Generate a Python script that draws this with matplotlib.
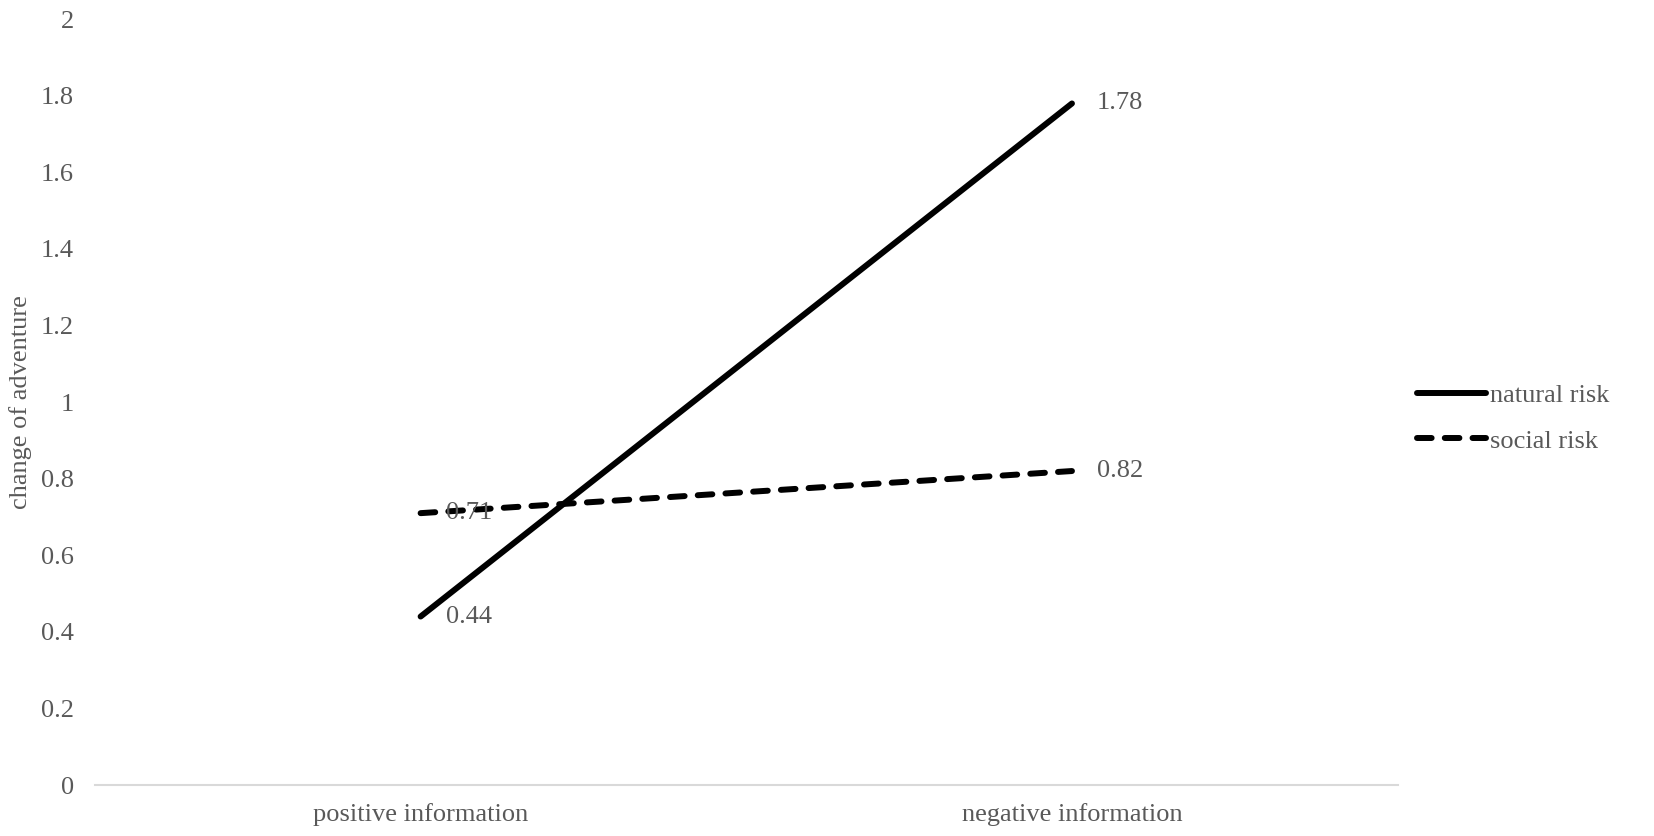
import matplotlib
matplotlib.use('Agg')
import matplotlib.pyplot as plt
import numpy as np

# Data
categories = ['positive information', 'negative information']
natural_risk = [0.44, 1.78]
social_risk = [0.71, 0.82]
series_names = ['natural risk', 'social risk']

plt.rcParams['font.family'] = ['Liberation Serif', 'DejaVu Serif']
grey = '#595959'
fs = 19

fig = plt.figure(figsize=(16.54, 8.36), dpi=100)
ax = fig.add_axes([0.0574, 0.061, 0.7876, 0.916])

x = np.arange(len(categories))
l1, = ax.plot(x, natural_risk, color='black', lw=4.3, solid_capstyle='round',
              label=series_names[0])
l2, = ax.plot(x, social_risk, color='black', lw=4.3, dash_capstyle='round',
              dashes=(2.45, 2.2), label=series_names[1])

for xs, ys in [(x, natural_risk), (x, social_risk)]:
    for xi, yi in zip(xs, ys):
        ax.annotate('{:.2f}'.format(yi), xy=(xi, yi), xytext=(18, 0),
                    textcoords='offset points', ha='left', va='center',
                    fontsize=fs, color=grey)

ax.set_xlim(-0.5, 1.5)
ax.set_ylim(0, 2)
ax.set_xticks(x)
ax.set_xticklabels(categories)
ax.set_yticks(np.arange(0, 2.01, 0.2))
ax.set_yticklabels(['0', '0.2', '0.4', '0.6', '0.8', '1', '1.2', '1.4', '1.6', '1.8', '2'])
ax.tick_params(length=0, labelsize=fs, labelcolor=grey)
ax.tick_params(axis='x', pad=13)
ax.tick_params(axis='y', pad=15)

for s in ['top', 'right', 'left']:
    ax.spines[s].set_visible(False)
ax.spines['bottom'].set_color('#d9d9d9')
ax.spines['bottom'].set_linewidth(1.5)

ax.set_ylabel('change of adventure', fontsize=fs, color=grey)
ax.yaxis.set_label_coords(-0.048, 0.5)

leg = fig.legend(handles=[l1, l2], loc='center left', bbox_to_anchor=(0.857, 0.5),
                 frameon=False, fontsize=fs, handlelength=2.6, handletextpad=0.15,
                 labelspacing=0.85, borderaxespad=0, borderpad=0)
for t in leg.get_texts():
    t.set_color(grey)

plt.savefig('out.png', dpi=100)
